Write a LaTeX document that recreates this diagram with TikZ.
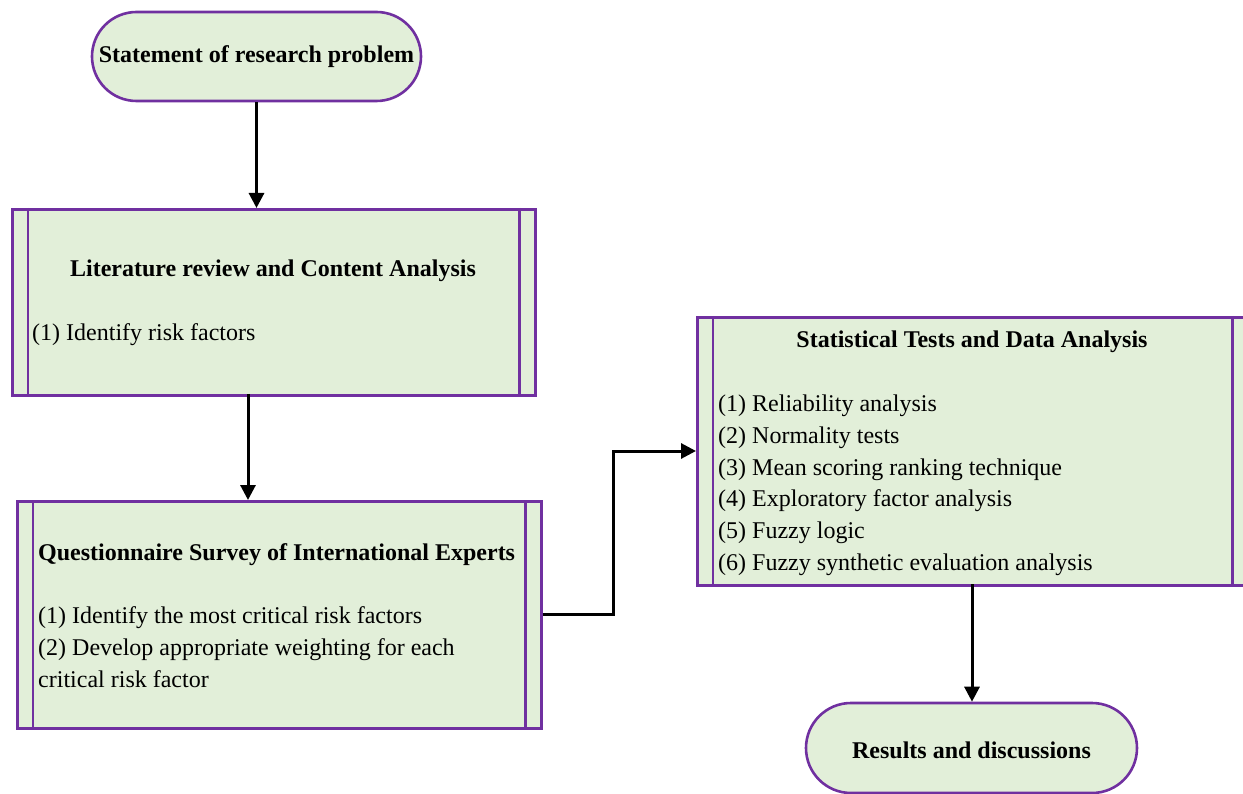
\documentclass[tikz,border=0pt]{standalone}
\usepackage{fontspec}
\setmainfont{Liberation Serif}
\usetikzlibrary{arrows.meta,shapes.misc}
\definecolor{boxfill}{HTML}{E2EFD9}
\definecolor{boxline}{HTML}{7030A0}
\tikzset{
  x=1pt,y=-1pt,
  every node/.style={font=\fontsize{24}{31.5}\selectfont, inner sep=0pt},
  terminal/.style={rounded rectangle, draw=boxline, fill=boxfill, line width=2.6pt, anchor=center},
  procbox/.style={draw=boxline, fill=boxfill, line width=2.6pt, anchor=north west},
  inner/.style={draw=boxline, line width=2.6pt},
  conn/.style={draw=black, line width=3pt, -{Triangle[length=15pt,width=15pt]}},
  title/.style={font=\fontsize{24}{31.5}\selectfont\bfseries},
  item/.style={anchor=base west},
}
\begin{document}
\begin{tikzpicture}
\useasboundingbox (0,0) rectangle (1243,794);
% start
\node[terminal, minimum width=329pt, minimum height=89pt] (start) at (256.5,56.5) {};
\node[title] (starttxt) at (256.5,57) {Statement of research problem};
% box 1
\node[procbox, minimum width=523pt, minimum height=186pt] (b1) at (11,208) {};
\draw[inner] ([xshift=17pt]b1.north west) -- ([xshift=17pt]b1.south west);
\draw[inner] ([xshift=-17pt]b1.north east) -- ([xshift=-17pt]b1.south east);
\node[title] (b1t) at (273,271) {Literature review and Content Analysis};
\node[item] (b1a) at (32,341) {(1) Identify risk factors};
% box 2
\node[procbox, minimum width=524pt, minimum height=227pt] (b2) at (16,500) {};
\draw[inner] ([xshift=17pt]b2.north west) -- ([xshift=17pt]b2.south west);
\draw[inner] ([xshift=-17pt]b2.north east) -- ([xshift=-17pt]b2.south east);
\node[title, anchor=base west] (b2t) at (38,560) {Questionnaire Survey of International Experts};
\node[item] (b2a) at (38,623) {(1) Identify the most critical risk factors};
\node[item] (b2b) at (38,655) {(2) Develop appropriate weighting for each};
\node[item] (b2c) at (38,687) {critical risk factor};
% box 3
\node[procbox, minimum width=551pt, minimum height=268pt] (b3) at (696,316) {};
\draw[inner] ([xshift=17pt]b3.north west) -- ([xshift=17pt]b3.south west);
\draw[inner] ([xshift=-17pt]b3.north east) -- ([xshift=-17pt]b3.south east);
\node[title] (b3t) at (972,342) {Statistical Tests and Data Analysis};
\node[item] (b3a) at (718,412) {(1) Reliability analysis};
\node[item] (b3b) at (718,443) {(2) Normality tests};
\node[item] (b3c) at (718,475) {(3) Mean scoring ranking technique};
\node[item] (b3d) at (718,506) {(4) Exploratory factor analysis};
\node[item] (b3e) at (718,538) {(5) Fuzzy logic};
\node[item] (b3f) at (718,570) {(6) Fuzzy synthetic evaluation analysis};
% end
\node[terminal, minimum width=331pt, minimum height=90pt] (end) at (971.5,748) {};
\node[title] (endtxt) at (971.5,750) {Results and discussions};
% connectors
\coordinate (k1) at (613,614);
\coordinate (k2) at (613,451);
\draw[conn] (start.south) -- (start.south |- b1.north);
\draw[conn] (248,394) -- (248,500);
\draw[conn] (b2.east |- k1) -- (k1) -- (k2) -- (b3.west |- k2);
\draw[conn] (972,584) -- (end.north -| 972,0);
\end{tikzpicture}
\end{document}
